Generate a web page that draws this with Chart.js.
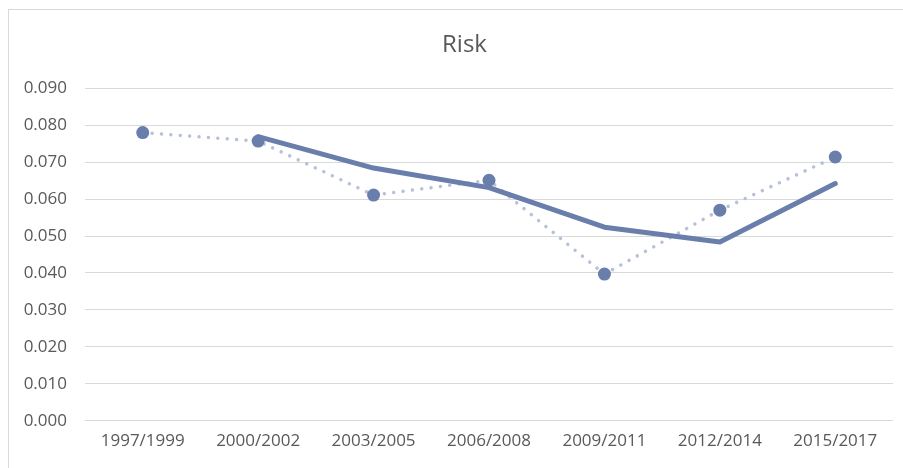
<!DOCTYPE html>
<html>
<head>
<meta charset="utf-8">
<script src="https://cdn.jsdelivr.net/npm/chart.js@4/dist/chart.umd.min.js"></script>
<style>
  html, body { margin: 0; padding: 0; background: #ffffff; overflow: hidden; width: 903px; height: 468px; }
  #frame {
    position: absolute; left: 8px; top: 9px;
    width: 911px; height: 470px;
    border: 1px solid #d9d9d9; background: #ffffff;
  }
  #chart { display: block; }
</style>
</head>
<body>
<div id="frame"><canvas id="chart" width="911" height="470"></canvas></div>
<script>
// Three-year periods on the horizontal axis
const periods = ['1997/1999', '2000/2002', '2003/2005', '2006/2008', '2009/2011', '2012/2014', '2015/2017'];
// Risk per period (dotted series with markers)
const riskValues = [0.0780, 0.0757, 0.0611, 0.0651, 0.0397, 0.0570, 0.0714];
// Two-period moving average of risk (solid trend line)
const riskTrend = [null, 0.0769, 0.0684, 0.0631, 0.0524, 0.0484, 0.0642];
// Value axis range and step
const yMin = 0, yMax = 0.09, yStep = 0.01;

const textColor = '#595959';
const fontFamily = '"Open Sans", Lato, sans-serif';

new Chart(document.getElementById('chart'), {
  type: 'line',
  data: {
    labels: periods,
    datasets: [
      {
        label: 'Risk',
        data: riskValues,
        borderColor: '#b6c0da',
        borderWidth: 3.5,
        borderDash: [0.01, 9.4],
        borderCapStyle: 'round',
        pointRadius: 6.5,
        pointHoverRadius: 6.5,
        pointBackgroundColor: '#6a7eab',
        pointBorderColor: '#6a7eab',
        pointBorderWidth: 0,
        tension: 0,
        order: 2
      },
      {
        label: '2 per. Mov. Avg. (Risk)',
        data: riskTrend,
        borderColor: '#6a7eab',
        borderWidth: 5,
        borderCapStyle: 'round',
        borderJoinStyle: 'round',
        pointRadius: 0,
        tension: 0,
        spanGaps: false,
        order: 1
      }
    ]
  },
  options: {
    responsive: false,
    animation: false,
    layout: { padding: 0 },
    plugins: {
      legend: { display: false },
      tooltip: { enabled: false },
      title: {
        display: true,
        text: 'Risk',
        color: textColor,
        font: { family: fontFamily, size: 24, weight: 'normal' },
        padding: { top: 21, bottom: 28.5 }
      }
    },
    scales: {
      x: {
        offset: true,
        grid: { display: false, drawTicks: false },
        border: { display: false },
        ticks: {
          color: textColor,
          font: { family: fontFamily, size: 17 },
          padding: 10,
          maxRotation: 0,
          autoSkip: false
        },
        afterFit: (scale) => { scale.height = 59.3; }
      },
      y: {
        min: yMin,
        max: yMax,
        grid: { color: '#d9d9d9', lineWidth: 1, drawTicks: false },
        border: { display: false },
        ticks: {
          stepSize: yStep,
          color: textColor,
          font: { family: fontFamily, size: 17 },
          padding: 18,
          callback: (v) => Number(v).toFixed(3)
        },
        afterFit: (scale) => { scale.width = 76; }
      },
      // empty right-hand margin axis: leaves blank space right of the plot
      margin: {
        type: 'linear',
        position: 'right',
        grid: { display: false, drawTicks: false },
        border: { display: false },
        ticks: { display: false },
        afterFit: (scale) => { scale.width = 27; }
      }
    }
  }
});
</script>
</body>
</html>
